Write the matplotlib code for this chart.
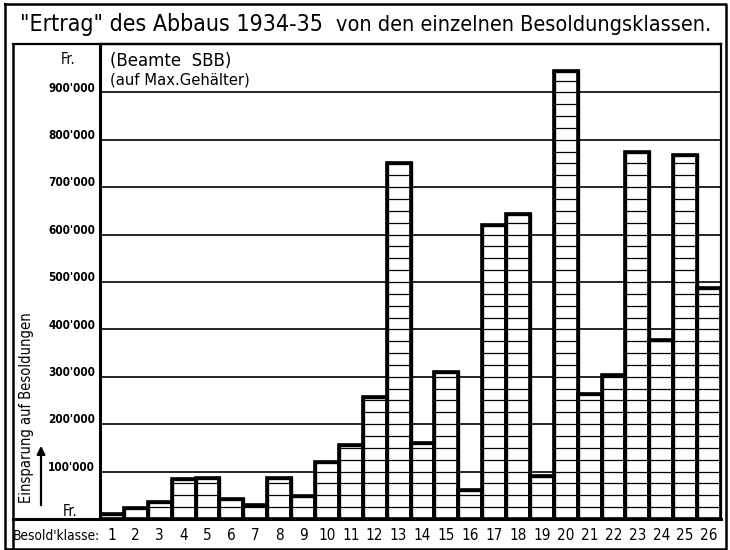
import numpy as np
import matplotlib.pyplot as plt
import matplotlib.transforms as mtransforms
from matplotlib.lines import Line2D
from matplotlib.patches import FancyArrowPatch

plt.rcParams['font.family'] = ['DejaVu Sans']
plt.rcParams['font.stretch'] = 'condensed'

classes = list(range(1, 27))
savings = [10000, 23000, 36000, 85000, 87000, 43000, 30000, 87000, 49000, 121000,
           157000, 257000, 751000, 161000, 310000, 62000, 620000, 643000, 91000, 945000,
           264000, 304000, 775000, 378000, 767000, 488000]
grid_values = [100000, 200000, 300000, 400000, 500000, 600000, 700000, 800000, 900000]
tick_labels = ["100'000", "200'000", "300'000", "400'000", "500'000",
               "600'000", "700'000", "800'000", "900'000"]
hatch_step = 25000

W, H = 730, 550
fig = plt.figure(figsize=(W / 100, H / 100), dpi=100)


def fx(px):
    return px / W


def fy(py):
    return 1 - py / H


ax = fig.add_axes([fx(100), fy(519), fx(721) - fx(100), fy(44) - fy(519)])
ax.set_xlim(0.5, 26.5)
ax.set_ylim(0, 1002000)

# grid
ax.hlines(grid_values, 0.5, 26.5, color='black', lw=1.2, zorder=1)

# bars with horizontal ruling
ax.bar(classes, savings, width=1.0, color='white', edgecolor='black', linewidth=2.4, zorder=3)
for x, h in zip(classes, savings):
    ys = np.arange(hatch_step, h, hatch_step)
    ax.hlines(ys, x - 0.5, x + 0.5, color='black', lw=0.9, zorder=4)
ax.bar(classes, savings, width=1.0, fill=False, edgecolor='black', linewidth=2.6, zorder=5)

ax.set_xticks([])
ax.set_yticks([])
for side in ['left', 'bottom']:
    ax.spines[side].set_linewidth(2.2)
for side in ['top', 'right']:
    ax.spines[side].set_linewidth(1.6)

# y tick labels
for v, lab in zip(grid_values, tick_labels):
    ax.text(-0.008, v + 9000, lab, transform=ax.get_yaxis_transform(),
            ha='right', va='center', fontsize=8.5, fontweight='bold')
fig.text(fx(68), fy(60), 'Fr.', ha='center', va='center', fontsize=10.5)
fig.text(fx(70), fy(511), 'Fr.', ha='center', va='center', fontsize=10.5)

# x labels
fig.text(fx(13), fy(536), "Besold'klasse:", ha='left', va='center', fontsize=9.8)
xlab_tr = mtransforms.blended_transform_factory(ax.transData, fig.transFigure)
for x in classes:
    ax.text(x, fy(536), str(x), transform=xlab_tr, ha='center', va='center', fontsize=11)

# notes
fig.text(fx(110), fy(61), '(Beamte  SBB)', ha='left', va='center', fontsize=12,
         fontstretch='normal')
fig.text(fx(110), fy(80), '(auf Max.Gehälter)', ha='left', va='center', fontsize=10.6,
         fontstretch='normal')

# y label with arrow
fig.text(fx(27), fy(408), 'Einsparung auf Besoldungen', rotation=90,
         ha='center', va='center', fontsize=10.5)
fig.patches.append(FancyArrowPatch((fx(41), fy(508)), (fx(41), fy(443)),
                                   transform=fig.transFigure, arrowstyle='-|>',
                                   mutation_scale=12, lw=1.6, color='black'))

# title
fig.text(fx(20), fy(24), '"Ertrag" des Abbaus 1934-35', ha='left', va='center',
         fontsize=16.6)
fig.text(fx(336), fy(25), 'von den einzelnen Besoldungsklassen.', ha='left',
         va='center', fontsize=15.5)

# frames
def fline(xs, ys, lw):
    fig.add_artist(Line2D([fx(v) for v in xs], [fy(v) for v in ys], color='black',
                          lw=lw, transform=fig.transFigure))


fline([5, 726, 726, 5, 5], [4, 4, 549, 549, 4], 1.8)
fline([13, 721], [44, 44], 1.6)
fline([13, 13], [44, 549], 1.8)
fline([13, 100], [519, 519], 2.2)

fig.savefig('out.png', dpi=100)
